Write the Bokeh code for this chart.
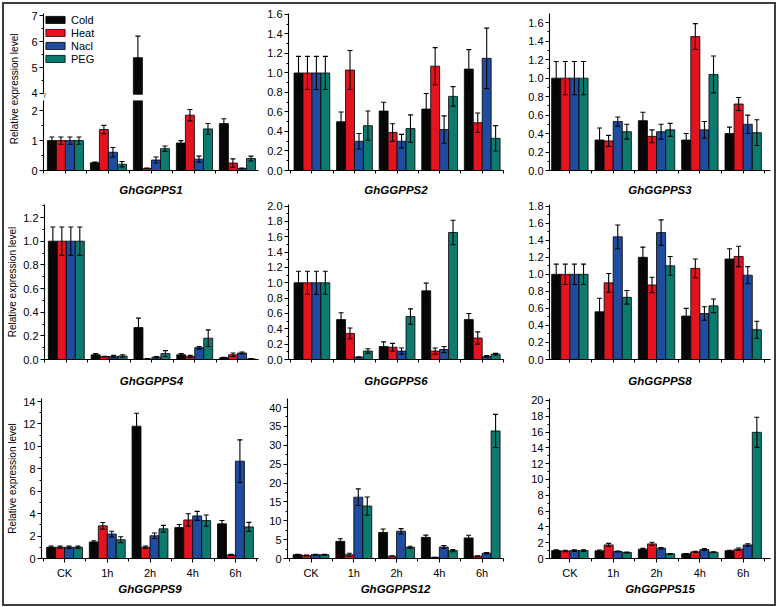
import numpy as np
from bokeh.plotting import figure
from bokeh.models import (ColumnDataSource, Range1d, FixedTicker, SingleIntervalTicker,
                          NumeralTickFormatter, Whisker, TeeHead, Label)
from bokeh.layouts import row, column
from bokeh.embed import file_html
from bokeh.resources import INLINE

# ---------------- data ----------------
groups = ["CK", "1h", "2h", "4h", "6h"]
series = ["Cold", "Heat", "Nacl", "PEG"]
colors = ["#070707", "#e3141f", "#1f4c9f", "#0c7a6f"]
ylabel_text = "Relative expression level"

# rows: Cold, Heat, Nacl, PEG ; columns: CK, 1h, 2h, 4h, 6h
ggpps1_mean = [[1.0, 0.26, 5.38, 0.92, 1.57],
               [1.0, 1.37, 0.07, 1.85, 0.25],
               [1.0, 0.61, 0.35, 0.38, 0.07],
               [1.0, 0.21, 0.73, 1.39, 0.40]]
ggpps1_err = [[0.12, 0.02, 0.83, 0.08, 0.16],
              [0.12, 0.14, 0.01, 0.19, 0.14],
              [0.12, 0.16, 0.10, 0.10, 0.01],
              [0.12, 0.09, 0.09, 0.18, 0.08]]

ggpps2_mean = [[1.0, 0.50, 0.61, 0.63, 1.04],
               [1.0, 1.03, 0.39, 1.07, 0.49],
               [1.0, 0.30, 0.30, 0.42, 1.15],
               [1.0, 0.46, 0.43, 0.76, 0.33]]
ggpps2_err = [[0.17, 0.10, 0.09, 0.16, 0.20],
              [0.17, 0.20, 0.09, 0.19, 0.10],
              [0.17, 0.08, 0.07, 0.14, 0.31],
              [0.17, 0.15, 0.14, 0.10, 0.13]]

ggpps3_mean = [[1.0, 0.33, 0.54, 0.33, 0.40],
               [1.0, 0.32, 0.37, 1.45, 0.72],
               [1.0, 0.53, 0.42, 0.44, 0.50],
               [1.0, 0.42, 0.44, 1.04, 0.41]]
ggpps3_err = [[0.18, 0.13, 0.09, 0.07, 0.07],
              [0.18, 0.06, 0.07, 0.14, 0.07],
              [0.18, 0.05, 0.08, 0.09, 0.10],
              [0.18, 0.08, 0.07, 0.20, 0.14]]

ggpps4_mean = [[1.0, 0.04, 0.27, 0.04, 0.015],
               [1.0, 0.025, 0.005, 0.025, 0.04],
               [1.0, 0.025, 0.02, 0.10, 0.055],
               [1.0, 0.03, 0.05, 0.18, 0.005]]
ggpps4_err = [[0.12, 0.01, 0.08, 0.01, 0.003],
              [0.12, 0.003, 0.002, 0.01, 0.015],
              [0.12, 0.01, 0.005, 0.01, 0.008],
              [0.12, 0.01, 0.025, 0.07, 0.002]]

ggpps6_mean = [[1.0, 0.52, 0.17, 0.895, 0.52],
               [1.0, 0.34, 0.16, 0.11, 0.28],
               [1.0, 0.03, 0.11, 0.13, 0.04],
               [1.0, 0.11, 0.56, 1.655, 0.07]]
ggpps6_err = [[0.15, 0.09, 0.06, 0.10, 0.08],
              [0.15, 0.07, 0.05, 0.04, 0.08],
              [0.15, 0.005, 0.04, 0.04, 0.01],
              [0.15, 0.03, 0.10, 0.16, 0.01]]

ggpps8_mean = [[1.0, 0.56, 1.20, 0.51, 1.18],
               [1.0, 0.90, 0.875, 1.07, 1.21],
               [1.0, 1.44, 1.49, 0.54, 0.99],
               [1.0, 0.73, 1.10, 0.63, 0.35]]
ggpps8_err = [[0.12, 0.16, 0.12, 0.09, 0.12],
              [0.12, 0.11, 0.09, 0.11, 0.12],
              [0.12, 0.14, 0.15, 0.08, 0.10],
              [0.12, 0.08, 0.11, 0.08, 0.10]]

ggpps9_mean = [[1.0, 1.47, 11.8, 2.76, 3.09],
               [1.0, 2.91, 1.0, 3.44, 0.32],
               [1.0, 2.18, 2.03, 3.80, 8.68],
               [1.0, 1.68, 2.65, 3.38, 2.82]]
ggpps9_err = [[0.1, 0.1, 1.15, 0.27, 0.3],
              [0.1, 0.3, 0.1, 0.55, 0.05],
              [0.1, 0.25, 0.25, 0.4, 1.9],
              [0.1, 0.26, 0.3, 0.5, 0.4]]

ggpps12_mean = [[1.0, 4.55, 6.9, 5.6, 5.45],
                [0.8, 1.0, 0.6, 0.3, 0.6],
                [1.0, 16.25, 7.23, 3.04, 1.4],
                [1.0, 13.9, 2.95, 2.1, 33.8]]
ggpps12_err = [[0.1, 0.7, 0.9, 0.6, 0.7],
               [0.1, 0.4, 0.1, 0.05, 0.1],
               [0.1, 2.2, 0.7, 0.4, 0.2],
               [0.1, 2.4, 0.3, 0.3, 4.4]]

ggpps15_mean = [[1.0, 0.97, 1.18, 0.59, 0.97],
                [0.95, 1.72, 1.85, 0.84, 1.18],
                [1.0, 0.88, 1.30, 1.13, 1.72],
                [1.0, 0.76, 0.59, 0.80, 15.97]]
ggpps15_err = [[0.1, 0.1, 0.1, 0.05, 0.08],
               [0.1, 0.2, 0.2, 0.08, 0.15],
               [0.1, 0.05, 0.1, 0.12, 0.15],
               [0.1, 0.05, 0.05, 0.05, 1.9]]

# ---------------- styling helpers ----------------
FONT = "Liberation Sans"
OFFSETS = [-0.315, -0.105, 0.105, 0.315]
BAR_W = 0.21
gx = np.arange(len(groups))
centers = [float(v) for v in gx]
bounds = [float(v) for v in np.arange(-0.5, len(groups), 1.0)]


def new_fig(w, h, xr, yr, bl, br, bt, bb, xaxis=True, yaxis=True):
    p = figure(width=w, height=h, x_range=Range1d(*xr), y_range=Range1d(*yr),
               toolbar_location=None, tools="", output_backend="svg",
               min_border_left=bl, min_border_right=br, min_border_top=bt,
               min_border_bottom=bb,
               x_axis_location="below" if xaxis else None,
               y_axis_location="left" if yaxis else None)
    p.title.visible = False
    p.outline_line_color = None
    p.xgrid.visible = False
    p.ygrid.visible = False
    p.background_fill_color = "white"
    p.border_fill_color = "white"
    for ax in p.axis:
        ax.axis_line_color = "black"
        ax.axis_line_width = 1.1
        ax.major_tick_line_color = "black"
        ax.minor_tick_line_color = "black"
        ax.major_tick_line_width = 1.1
        ax.minor_tick_line_width = 1.0
        ax.major_tick_in = 0
        ax.major_tick_out = 4
        ax.minor_tick_in = 0
        ax.minor_tick_out = 2
        ax.major_label_text_font = FONT
        ax.major_label_text_font_size = "11px"
        ax.major_label_text_color = "black"
        ax.major_label_standoff = 2
        ax.axis_label_text_font = FONT
    return p


def set_xaxis(p, gene, cats, label_standoff):
    ax = p.xaxis[0]
    if cats:
        ax.ticker = FixedTicker(ticks=centers, minor_ticks=bounds)
        ax.major_label_overrides = {int(i): g for i, g in enumerate(groups)}
        ax.major_label_standoff = 4
        ax.minor_tick_out = 3
    else:
        # no tick labels on the upper rows: all ticks drawn as minor ticks
        ax.ticker = FixedTicker(ticks=[], minor_ticks=sorted(centers + bounds))
        ax.major_tick_out = 0
        ax.minor_tick_out = 3
    ax.axis_label = gene
    ax.axis_label_text_font_style = "bold italic"
    ax.axis_label_text_font_size = "11.5px"
    ax.axis_label_text_color = "black"
    ax.axis_label_standoff = label_standoff


def set_yaxis(p, ticker, fmt, ylabel=False):
    ax = p.yaxis[0]
    ax.ticker = ticker
    ax.formatter = NumeralTickFormatter(format=fmt)
    if ylabel:
        ax.axis_label = ylabel_text
        ax.axis_label_text_font_style = "normal"
        ax.axis_label_text_font_size = "10px"
        ax.axis_label_text_color = "black"
        ax.axis_label_standoff = 2


def draw(p, mean, err, err_mask=None, cut=None, legend=False):
    for i, s in enumerate(series):
        m = np.asarray(mean[i], float)
        e = np.asarray(err[i], float)
        x = gx + OFFSETS[i]
        em = err_mask(m) if err_mask else np.ones(len(m), bool)
        if cut is None:
            bot = np.zeros(len(m))
        else:
            # upper segment of a broken axis: only bars above the cut reach it
            bot = np.where(m > cut, cut - 0.03, m)
        bsrc = ColumnDataSource(dict(x=x, top=m, bottom=bot))
        kw = dict(legend_label=s) if legend else {}
        p.vbar(x="x", top="top", bottom="bottom", width=BAR_W, source=bsrc,
               fill_color=colors[i], line_color="black", line_width=0.8, **kw)
        esrc = ColumnDataSource(dict(x=x[em], upper=(m + e)[em], lower=(m - e)[em]))
        w = Whisker(base="x", upper="upper", lower="lower", source=esrc,
                    dimension="height", line_color="black", line_width=1.1,
                    upper_head=TeeHead(size=5, line_color="black", line_width=1.1),
                    lower_head=TeeHead(size=5, line_color="black", line_width=1.1))
        w.level = "overlay"
        p.add_layout(w)


# ---------------- layout geometry ----------------
C1W, C2W, C3W = 260, 261, 249
R1H, R2H, R3H = 194, 191, 215
XR1 = (-0.51, 4.49)
XR7 = (-0.54, 4.54)
XR2 = (-0.55, 4.50)
XR3 = (-0.47, 4.63)
LABW = 19

# ---------- Panel GhGGPPS1 (broken axis) ----------
LOW_TOP = 2.34
HIGH_BOT, HIGH_TOP = 4.0, 7.08
HIGH_START = 3.73
TOPH = 96
p1_top = new_fig(C1W - LABW, TOPH, XR1, (HIGH_START, HIGH_TOP), 20, 6, 9, 0, xaxis=False)
set_yaxis(p1_top, FixedTicker(ticks=[4, 5, 6, 7], minor_ticks=[4.5, 5.5, 6.5]), "0")
draw(p1_top, ggpps1_mean, ggpps1_err, err_mask=lambda m: m > HIGH_BOT,
     cut=HIGH_BOT, legend=True)
p1_top.yaxis[0].bounds = (HIGH_BOT, HIGH_TOP)
lg = p1_top.legend[0]
lg.location = "top_left"
lg.margin = 0
lg.padding = 3
lg.spacing = 0
lg.label_height = 13
lg.glyph_height = 9
lg.glyph_width = 24
lg.label_standoff = 4
lg.label_text_font = FONT
lg.label_text_font_size = "11px"
lg.label_text_color = "black"
lg.border_line_color = None
lg.background_fill_alpha = 0

# axis-break mark on the y axis
p1_top.add_layout(Label(x=XR1[0], y=3.93, text="//", text_font=FONT,
                        text_font_size="8px", text_align="center",
                        text_baseline="middle", text_color="black"))

p1_bot = new_fig(C1W - LABW, R1H - TOPH, XR1, (0, LOW_TOP), 20, 6, 0, 25)
set_yaxis(p1_bot, FixedTicker(ticks=[0, 1, 2], minor_ticks=[0.5, 1.5]), "0")
set_xaxis(p1_bot, "GhGGPPS1", False, 10)
draw(p1_bot, ggpps1_mean, ggpps1_err, err_mask=lambda m: m <= LOW_TOP)

p1_lab = figure(width=LABW, height=R1H, x_range=Range1d(0, 1), y_range=Range1d(0, 1),
                toolbar_location=None, tools="", output_backend="svg",
                min_border=0, x_axis_location=None, y_axis_location=None)
p1_lab.title.visible = False
p1_lab.outline_line_color = None
p1_lab.xgrid.visible = False
p1_lab.ygrid.visible = False
p1_lab.add_layout(Label(x=0.53, y=0.565, text=ylabel_text, angle=np.pi / 2,
                        text_align="center", text_baseline="middle",
                        text_font=FONT, text_font_size="10px", text_color="black"))
panel1 = row(p1_lab, column(p1_top, p1_bot))

# ---------- other panels ----------
def panel(mean, err, gene, w, h, xr, ytop, ticker, fmt, bl, br, bt, bb,
          ylabel=False, cats=False, standoff=6):
    p = new_fig(w, h, xr, (0, ytop), bl, br, bt, bb)
    set_yaxis(p, ticker, fmt, ylabel)
    set_xaxis(p, gene, cats, standoff)
    draw(p, mean, err)
    return p

t02 = lambda: SingleIntervalTicker(interval=0.2, num_minor_ticks=2)

p2 = panel(ggpps2_mean, ggpps2_err, "GhGGPPS2", C2W, R1H, XR2, 1.61, t02(), "0.0", 23, 22, 9, 25, standoff=10)
p3 = panel(ggpps3_mean, ggpps3_err, "GhGGPPS3", C3W, R1H, XR3, 1.70, t02(), "0.0", 24, 4, 9, 25, standoff=10)

p4 = panel(ggpps4_mean, ggpps4_err, "GhGGPPS4", C1W, R2H, XR1, 1.31, t02(), "0.0", 39, 6, 6, 26, ylabel=True, standoff=12)
p5 = panel(ggpps6_mean, ggpps6_err, "GhGGPPS6", C2W, R2H, XR2, 2.02, t02(), "0.0", 23, 22, 6, 26, standoff=12)
p6 = panel(ggpps8_mean, ggpps8_err, "GhGGPPS8", C3W, R2H, XR3, 1.82, t02(), "0.0", 24, 4, 6, 26, standoff=12)

p7 = panel(ggpps9_mean, ggpps9_err, "GhGGPPS9", C1W, R3H, XR7, 14.27,
           SingleIntervalTicker(interval=2, num_minor_ticks=2), "0", 36, 6, 9, 46, ylabel=True, cats=True, standoff=1)
p8 = panel(ggpps12_mean, ggpps12_err, "GhGGPPS12", C2W, R3H, XR2, 42.4,
           SingleIntervalTicker(interval=5, num_minor_ticks=2), "0", 23, 22, 9, 46, cats=True, standoff=1)
p9 = panel(ggpps15_mean, ggpps15_err, "GhGGPPS15", C3W, R3H, XR3, 20.25,
           SingleIntervalTicker(interval=2, num_minor_ticks=2), "0", 24, 4, 9, 46, cats=True, standoff=1)

layout = column(row(panel1, p2, p3), row(p4, p5, p6), row(p7, p8, p9),
                margin=(4, 0, 0, 4),
                stylesheets=[":host { box-shadow: 0 0 0 2px #3d3d3d; }"])

open("out.html", "w").write(file_html(layout, INLINE))
